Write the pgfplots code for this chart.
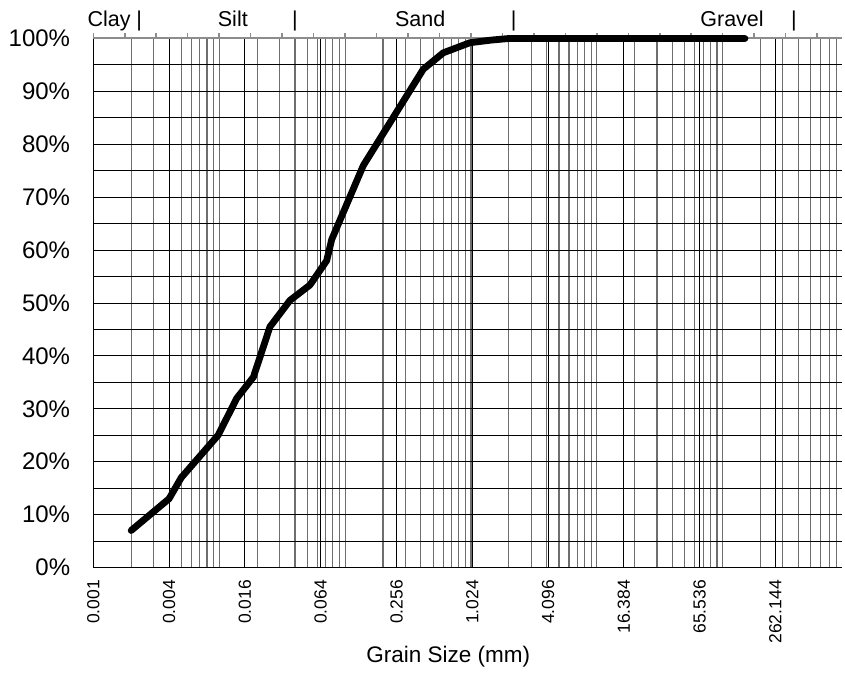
\documentclass[border=0pt]{standalone}
\usepackage{pgfplots}
\pgfplotsset{compat=1.18}
\usepackage{fontspec}
\setmainfont{Liberation Sans}

\definecolor{gridgray}{HTML}{6E6E6E}
\definecolor{topgray}{HTML}{8C8C8C}

\begin{document}
\begin{tikzpicture}
\pgfplotsset{
  every axis/.append style={
    scale only axis,
    width=749pt,
    height=529pt,
  },
}
% main axis: grid and tick labels
\begin{axis}[
    xmode=log,
    xmin=0.001, xmax=890,
    ymin=0, ymax=100,
    axis x line*=bottom,
    axis y line*=left,
    axis line style={black, line width=1.3pt},
    major tick length=0pt,
    minor tick length=0pt,
    xtick={0.001,0.004,0.016,0.064,0.256,1.024,4.096,16.384,65.536,262.144},
    xticklabels={0.001,0.004,0.016,0.064,0.256,1.024,4.096,16.384,65.536,262.144},
    minor xtick={0.002,0.003,0.004,0.005,0.006,0.007,0.008,0.009,
                 0.01,0.02,0.03,0.04,0.05,0.06,0.07,0.08,0.09,
                 0.1,0.2,0.3,0.4,0.5,0.6,0.7,0.8,0.9,
                 1,2,3,4,5,6,7,8,9,
                 10,20,30,40,50,60,70,80,90,
                 100,200,300,400,500,600,700,800},
    ytick={0,10,...,100},
    yticklabels={0\%,10\%,20\%,30\%,40\%,50\%,60\%,70\%,80\%,90\%,100\%},
    minor ytick={5,15,...,95},
    grid=both,
    major x grid style={black, line width=1pt},
    minor x grid style={gridgray, line width=1.1pt},
    major y grid style={black, line width=1pt},
    minor y grid style={black, line width=1pt},
    xticklabel style={rotate=90, anchor=east, inner sep=0pt,
                      font=\fontsize{17.5}{20}\selectfont},
    xticklabel shift=12.5pt,
    yticklabel style={anchor=east, inner sep=0pt,
                      font=\fontsize{24}{28}\selectfont},
    yticklabel shift=23pt,
    xlabel={Grain Size (mm)},
    xlabel style={at={(axis description cs:0.474,0)}, anchor=center,
                  yshift=-89.5pt, font=\fontsize{22.5}{26}\selectfont},
  ]
  \addplot[draw=none] coordinates {(0.01,50)};
\end{axis}

% top gray axis with the soil class names
\begin{axis}[
    xmin=0, xmax=23.8,
    ymin=0, ymax=1,
    axis x line*=top,
    hide y axis,
    axis line style={topgray, line width=2pt},
    xtick={0,1,...,23},
    xticklabels={},
    tick align=outside,
    major tick length=5pt,
    tick style={topgray, line width=1.5pt},
    clip=false,
  ]
  \addplot[draw=none] coordinates {(1,0.5)};
  \begin{scope}[font=\fontsize{21.5}{25}\selectfont]
    \node[anchor=base] at ([yshift=12pt]rel axis cs:0.0287,1) {Clay |};
    \node[anchor=base] at ([yshift=12pt]rel axis cs:0.1863,1) {Silt};
    \node[anchor=base] at ([yshift=12pt]rel axis cs:0.2693,1) {|};
    \node[anchor=base] at ([yshift=12pt]rel axis cs:0.4365,1) {Sand};
    \node[anchor=base] at ([yshift=12pt]rel axis cs:0.5613,1) {|};
    \node[anchor=base] at ([yshift=12pt]rel axis cs:0.8528,1) {Gravel};
    \node[anchor=base] at ([yshift=12pt]rel axis cs:0.9355,1) {|};
  \end{scope}
\end{axis}

% grading curve
\begin{axis}[
    xmode=log,
    xmin=0.001, xmax=890,
    ymin=0, ymax=100,
    hide axis,
    clip=false,
  ]
  \addplot[black, line width=6.8pt, line cap=round, line join=round]
  coordinates {
    (0.002,7)
    (0.004,13)
    (0.005,17)
    (0.0098,25)
    (0.0138,32)
    (0.0187,36)
    (0.0253,45.5)
    (0.0365,50.5)
    (0.0526,53.4)
    (0.0714,58)
    (0.0783,62)
    (0.1396,76)
    (0.418,94.2)
    (0.603,97.3)
    (0.98,99.2)
    (1.45,99.7)
    (2.0,100)
    (150,100)
  };
\end{axis}
\pgfresetboundingbox
\path[use as bounding box] (-93.3pt,-104.5pt) rectangle (751.7pt,567.5pt);
\end{tikzpicture}
\end{document}
